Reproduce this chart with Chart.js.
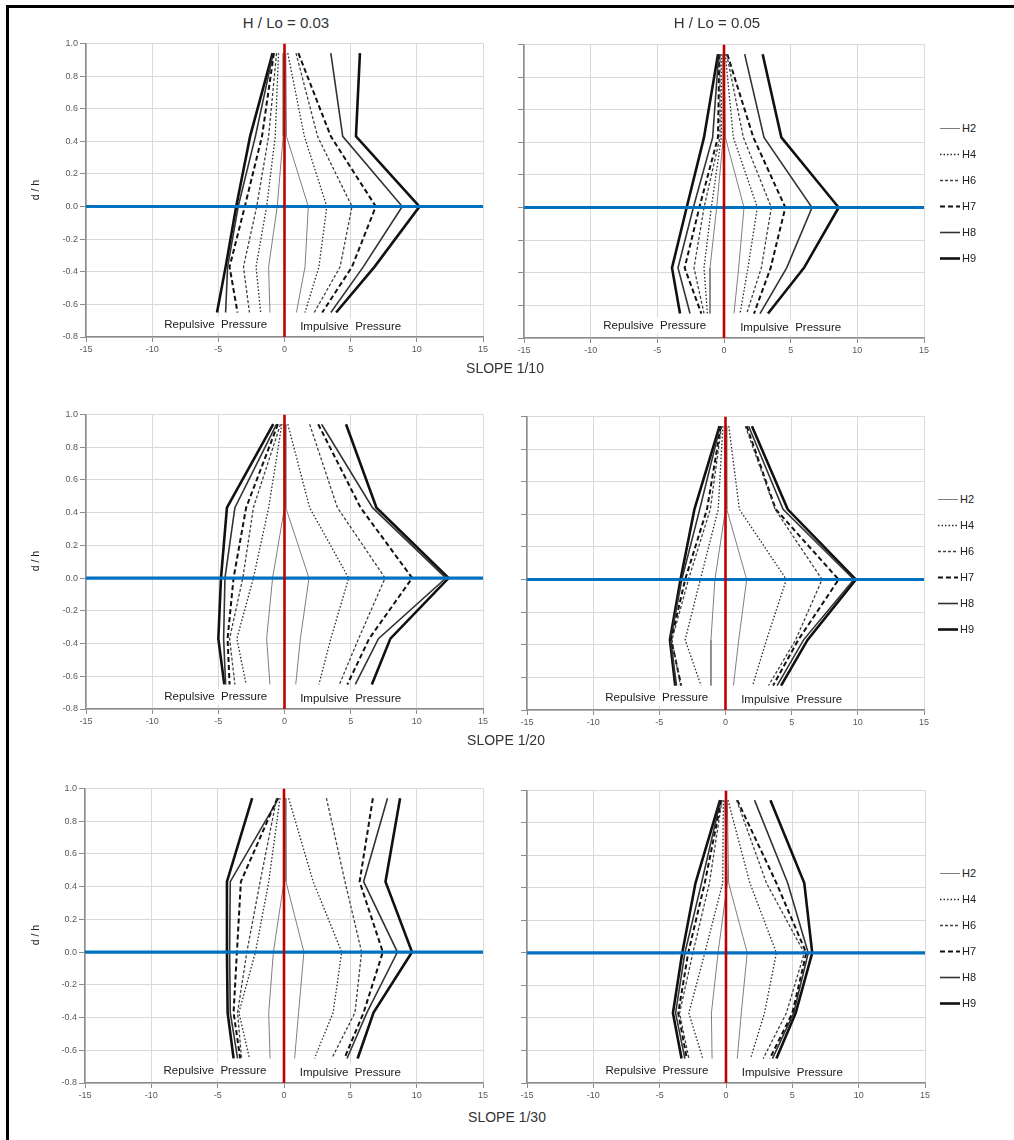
<!DOCTYPE html>
<html><head><meta charset="utf-8">
<script src="https://cdn.jsdelivr.net/npm/chart.js@4.4.0/dist/chart.umd.min.js"></script>
<style>
body{margin:0;background:#fff;width:1014px;height:1140px;position:relative;overflow:hidden;font-family:'Liberation Sans',Arial,sans-serif;}
canvas{position:absolute;}
.t{position:absolute;color:#333;white-space:nowrap;transform:translate(-50%,-50%);}
.yt{position:absolute;color:#222;font-size:10.5px;transform:translate(-50%,-50%) rotate(-90deg);white-space:nowrap;}
.frameL{position:absolute;left:6px;top:5px;width:3px;height:1140px;background:#000;}
.frameT{position:absolute;left:6px;top:5px;width:1008px;height:3px;background:#000;}
.leg{position:absolute;font-size:11px;color:#222;}
.leg div{position:absolute;white-space:nowrap;height:12px;line-height:12px;}
</style></head>
<body>
<div class="frameL"></div><div class="frameT"></div>
<script>
// ---------------- data ----------------
const levels = [0.94, 0.43, 0, -0.37, -0.65];   // d / h
const seriesNames = ['H2','H4','H6','H7','H8','H9'];
const xTicks = [-15,-10,-5,0,5,10,15];
const yTicks = [-0.8,-0.6,-0.4,-0.2,0,0.2,0.4,0.6,0.8,1.0];
const columnTitles = ['H / Lo = 0.03','H / Lo = 0.05'];
const rowTitles = ['SLOPE 1/10','SLOPE 1/20','SLOPE 1/30'];

// slope 1/10, H/Lo 0.03   rows: H2,H4,H6,H7,H8,H9
const imp_10_003 = [[0.1,0.15,1.8,1.55,0.9],[0.25,1.5,3.2,2.6,1.55],[0.87,2.5,5.1,4.2,2.25],[1.05,3.5,6.9,5.1,2.85],[3.5,4.4,8.9,5.95,3.5],[5.7,5.4,10.2,6.8,3.9]];
const rep_10_003 = [[-0.1,-0.1,-0.55,-1.2,-1.1],[-0.45,-0.7,-1.35,-2.15,-1.8],[-0.6,-1.2,-2.1,-3.1,-2.65],[-0.8,-1.7,-3.0,-4.15,-3.55],[-0.85,-2.2,-3.5,-4.3,-4.45],[-0.9,-2.6,-3.65,-4.45,-5.1]];
// slope 1/10, H/Lo 0.05
const imp_10_005 = [[0.0,0.1,1.5,1.1,0.75],[0.1,0.7,2.5,1.8,1.2],[0.2,1.45,3.55,2.8,1.7],[0.25,2.2,4.6,3.5,2.25],[1.55,3.0,6.6,4.7,2.7],[2.9,4.3,8.6,6.0,3.3]];
const rep_10_005 = [[-0.1,-0.05,-0.55,-1.05,-1.05],[-0.2,-0.2,-0.95,-1.5,-1.25],[-0.3,-0.3,-1.5,-2.25,-1.5],[-0.35,-0.45,-1.85,-2.95,-1.7],[-0.4,-0.85,-2.3,-3.45,-2.55],[-0.45,-1.5,-2.8,-3.9,-3.3]];
// slope 1/20, H/Lo 0.03
const imp_20_003 = [[0.1,0.1,1.85,1.2,0.85],[0.25,1.9,4.85,3.5,2.6],[1.9,4.0,7.6,5.6,4.15],[2.55,5.75,9.65,6.4,4.75],[2.8,6.65,12.2,7.1,5.35],[4.65,6.95,12.4,8.0,6.6]];
const rep_20_003 = [[-0.05,0.0,-0.9,-1.35,-1.1],[-0.2,-1.2,-2.35,-3.6,-2.9],[-0.3,-2.35,-3.15,-4.15,-3.75],[-0.5,-2.9,-3.85,-4.3,-4.15],[-0.6,-3.75,-4.5,-4.6,-4.45],[-0.85,-4.35,-4.8,-5.0,-4.55]];
// slope 1/20, H/Lo 0.05
const imp_20_005 = [[0.05,0.1,1.6,1.0,0.6],[0.25,1.05,4.6,3.1,2.05],[1.5,3.75,7.3,5.3,3.25],[1.6,3.8,8.55,5.5,3.6],[1.75,4.35,9.7,5.9,3.9],[2.0,4.7,9.85,6.2,4.2]];
const rep_20_005 = [[-0.1,0.0,-0.8,-1.1,-1.1],[-0.2,-0.55,-1.9,-3.05,-1.85],[-0.3,-1.15,-2.8,-4.05,-3.4],[-0.35,-1.4,-3.05,-4.1,-3.35],[-0.4,-1.95,-3.3,-4.15,-3.7],[-0.45,-2.35,-3.4,-4.2,-3.8]];
// slope 1/30, H/Lo 0.03
const imp_30_003 = [[0.1,0.15,1.5,1.1,0.8],[0.35,2.2,4.35,3.7,2.3],[3.2,4.6,5.85,5.35,3.6],[6.7,5.7,7.45,6.0,4.55],[7.8,6.0,8.55,6.25,4.75],[8.75,7.65,9.65,6.75,5.55]];
const rep_30_003 = [[-0.05,0.0,-0.8,-1.15,-1.05],[-0.3,-1.15,-2.15,-3.4,-2.6],[-0.55,-1.8,-2.8,-3.5,-3.2],[-0.5,-3.25,-3.55,-3.8,-3.3],[-0.4,-4.05,-4.1,-4.05,-3.5],[-2.4,-4.3,-4.3,-4.25,-3.8]];
// slope 1/30, H/Lo 0.05
const imp_30_005 = [[0.1,0.2,1.6,1.15,0.85],[0.15,1.8,3.8,2.9,1.85],[0.8,3.05,5.9,4.55,2.8],[0.85,3.8,6.05,5.0,3.3],[2.15,4.65,6.2,5.1,3.5],[3.35,5.9,6.5,5.25,3.8]];
const rep_30_005 = [[-0.1,0.1,-0.6,-1.1,-1.05],[-0.2,-0.25,-1.6,-2.8,-1.75],[-0.3,-1.25,-2.5,-3.5,-2.8],[-0.35,-1.6,-2.85,-3.6,-2.95],[-0.4,-1.85,-3.1,-3.8,-3.1],[-0.45,-2.3,-3.3,-4.0,-3.35]];

// ---------------- styles ----------------
const FONT = "'Liberation Sans', Arial, sans-serif";
const lineStyles = [
  {color:'#7f7f7f', width:1,   dash:[]},
  {color:'#262626', width:1.3, dash:[1.5,2]},
  {color:'#404040', width:1.3, dash:[3,2]},
  {color:'#111111', width:2,   dash:[5,3]},
  {color:'#333333', width:1.6, dash:[]},
  {color:'#111111', width:2.6, dash:[]}
];

const panels = [
  {L:86, R:483, T:42, B:337, imp:imp_10_003, rep:rep_10_003, yLabels:true},
  {L:524,R:924, T:43, B:338, imp:imp_10_005, rep:rep_10_005, yLabels:false},
  {L:86, R:483, T:413,B:709, imp:imp_20_003, rep:rep_20_003, yLabels:true},
  {L:527,R:924, T:415,B:710, imp:imp_20_005, rep:rep_20_005, yLabels:false},
  {L:85, R:483, T:787,B:1083,imp:imp_30_003, rep:rep_30_003, yLabels:true},
  {L:527,R:925, T:789,B:1083,imp:imp_30_005, rep:rep_30_005, yLabels:false}
];

const labelPlugin = {
  id:'pressureLabels',
  afterDatasetsDraw(chart){
    const ctx = chart.ctx, xs = chart.scales.x, ys = chart.scales.y;
    ctx.save();
    ctx.font = "11.5px " + FONT;
    ctx.textAlign='center'; ctx.textBaseline='middle';
    [['Repulsive  Pressure',-5.2,-0.725],['Impulsive  Pressure',5.0,-0.735]].forEach(([t,x,y])=>{
      const px = xs.getPixelForValue(x), py = ys.getPixelForValue(y);
      const w = ctx.measureText(t).width;
      ctx.fillStyle='#fff';
      ctx.fillRect(px-w/2-3, py-8, w+6, 16);
      ctx.fillStyle='#1a1a1a';
      ctx.fillText(t, px, py);
    });
    ctx.restore();
  }
};

panels.forEach((p,pi)=>{
  const padTop=6, padRight=12, yW=50, xH=24;
  const cv = document.createElement('canvas');
  const W = (p.R-p.L)+yW+padRight, H=(p.B-p.T)+padTop+xH;
  cv.width=W; cv.height=H;
  cv.style.left=(p.L-yW)+'px'; cv.style.top=(p.T-padTop)+'px';
  cv.style.width=W+'px'; cv.style.height=H+'px';
  document.body.appendChild(cv);
  const datasets=[];
  seriesNames.forEach((n,si)=>{
    const st=lineStyles[si];
    [p.imp[si], p.rep[si]].forEach(vals=>{
      datasets.push({
        label:n, data:levels.map((y,i)=>({x:vals[i], y:y})),
        showLine:true, borderColor:st.color, borderWidth:st.width, borderDash:st.dash,
        pointRadius:0, fill:false, tension:0, order:5
      });
    });
  });
  datasets.push({label:'zero-y', data:[{x:-15,y:0},{x:15,y:0}], showLine:true, borderColor:'#0070c0', borderWidth:3.2, pointRadius:0, order:1});
  datasets.push({label:'zero-x', data:[{x:0,y:-0.8},{x:0,y:1}], showLine:true, borderColor:'#c00000', borderWidth:2.6, pointRadius:0, order:0});
  new Chart(cv,{
    type:'scatter',
    data:{datasets},
    plugins:[labelPlugin],
    options:{
      responsive:false, animation:false, devicePixelRatio:1,
      layout:{padding:{top:padTop,right:padRight,left:0,bottom:0}},
      plugins:{legend:{display:false}, tooltip:{enabled:false}},
      scales:{
        x:{type:'linear', min:-15, max:15,
           afterBuildTicks(s){ s.ticks = xTicks.map(v=>({value:v})); },
           afterFit(s){ s.height = xH; },
           ticks:{color:'#595959', font:{family:FONT,size:9}, padding:2, maxRotation:0, callback:v=>String(v)},
           grid:{color:'#d9d9d9', tickColor:'#8c8c8c', tickLength:5, lineWidth:1},
           border:{color:'#8c8c8c', width:1.5}},
        y:{type:'linear', min:-0.8, max:1.0,
           afterBuildTicks(s){ s.ticks = yTicks.map(v=>({value:v})); },
           afterFit(s){ s.width = yW; },
           ticks:{color:'#595959', font:{family:FONT,size:9}, padding:2,
                  callback:v=> p.yLabels ? Number(v).toFixed(1) : ''},
           grid:{color:'#d9d9d9', tickColor:'#8c8c8c', tickLength:6, lineWidth:1},
           border:{color:'#8c8c8c', width:1.5}}
      }
    }
  });
});

// ---------------- text ----------------
function addText(cls, txt, x, y, size){
  const d=document.createElement('div'); d.className=cls; d.textContent=txt;
  d.style.left=x+'px'; d.style.top=y+'px'; if(size) d.style.fontSize=size+'px';
  document.body.appendChild(d);
}
addText('t', columnTitles[0], 286, 22, 15);
addText('t', columnTitles[1], 717, 22, 15);
addText('t', rowTitles[0], 505, 368, 14);
addText('t', rowTitles[1], 506, 740, 14);
addText('t', rowTitles[2], 507, 1117, 14);
[190,561,935].forEach(y=>addText('yt','d / h',35,y));

// legends
const legendRows = [[127,940],[498,938],[872,940]];
legendRows.forEach(([y0,x0])=>{
  const lg=document.createElement('div'); lg.className='leg'; lg.style.left=x0+'px'; lg.style.top=y0+'px';
  seriesNames.forEach((n,i)=>{
    const st=lineStyles[i];
    const row=document.createElement('div'); row.style.top=(i*26-6)+'px'; row.style.left='0px';
    const c=document.createElement('canvas'); c.width=20; c.height=12; c.style.position='relative'; c.style.verticalAlign='middle';
    const cx=c.getContext('2d'); cx.strokeStyle=st.color; cx.lineWidth=st.width; cx.setLineDash(st.dash);
    cx.beginPath(); cx.moveTo(0,6.5); cx.lineTo(20,6.5); cx.stroke();
    row.appendChild(c);
    const s=document.createElement('span'); s.textContent=n; s.style.verticalAlign='middle'; s.style.marginLeft='2px';
    row.appendChild(s);
    lg.appendChild(row);
  });
  document.body.appendChild(lg);
});
</script>
</body></html>
